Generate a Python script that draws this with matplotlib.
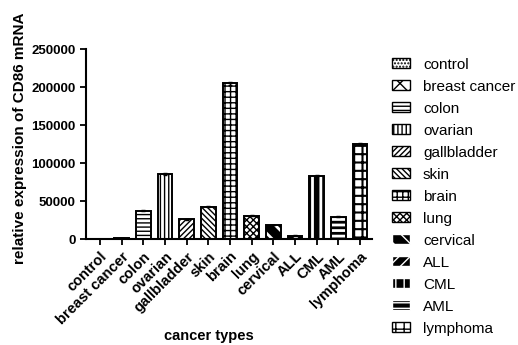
import matplotlib.pyplot as plt
from matplotlib.patches import Patch

plt.rcParams['font.family'] = ['Liberation Sans', 'DejaVu Sans']
plt.rcParams['hatch.linewidth'] = 1.0

# data
cancers = ['control', 'breast cancer', 'colon', 'ovarian', 'gallbladder', 'skin',
           'brain', 'lung', 'cervical', 'ALL', 'CML', 'AML', 'lymphoma']
expression = [300, 1200, 37000, 85500, 26000, 42500, 205000, 30500, 18500,
              4500, 83500, 29500, 125000]
errors = [100, 300, 800, 1000, 600, 1000, 2000, 700, 500, 400, 1200, 800, 1200]

# style per bar: (facecolor, hatch, hatch colour, hatch width)
styles = [
    ('white', '.....', 'black', 1.0),
    ('white', 'xx', 'black', 1.0),
    ('white', '----', 'black', 1.0),
    ('white', '||||', 'black', 1.0),
    ('white', '//////', 'black', 1.0),
    ('white', '\\\\\\\\\\\\', 'black', 1.0),
    ('white', '+++', 'black', 1.0),
    ('white', 'xxxxx', 'black', 1.0),
    ('black', '\\\\', 'white', 2.0),
    ('black', '///', 'white', 2.0),
    ('black', '||', 'white', 2.0),
    ('black', '---', 'white', 2.0),
    ('white', '++', 'black', 1.5),
]

fig = plt.figure(figsize=(5.18, 3.45), dpi=100)
ax = fig.add_axes([86 / 518, 1 - 239 / 345, 286 / 518, 190 / 345])

x = list(range(len(cancers)))
for i, (val, err, (fc, h, hc, hw)) in enumerate(zip(expression, errors, styles)):
    b = ax.bar(i, val, width=0.68, facecolor=fc, edgecolor=hc, hatch=h, linewidth=0)
    for p in b.patches:
        if hasattr(p, 'set_hatch_linewidth'):
            p.set_hatch_linewidth(hw)
    ax.bar(i, val, width=0.68, fill=False, edgecolor='black', linewidth=1.4,
           yerr=err, capsize=1.5, error_kw=dict(elinewidth=1, capthick=1))

ax.set_xlim(-0.645, 12.55)
ax.set_ylim(0, 250000)
ax.set_yticks([0, 50000, 100000, 150000, 200000, 250000])
ax.set_xticks(x)
ax.set_xticklabels(cancers, rotation=45, ha='right', rotation_mode='anchor',
                   fontsize=10.5, fontweight='bold')
for lab in ax.get_yticklabels():
    lab.set_fontweight('bold')
    lab.set_fontsize(9.5)
ax.tick_params(direction='out', width=1.3, length=4)
ax.spines['top'].set_visible(False)
ax.spines['right'].set_visible(False)
ax.spines['left'].set_linewidth(1.5)
ax.spines['bottom'].set_linewidth(1.5)

ax.set_ylabel('relative expression of CD86 mRNA', fontsize=11, fontweight='bold')
ax.set_xlabel('cancer types', fontsize=10.5, fontweight='bold')
ax.yaxis.set_label_coords(-0.205, 0.53)
ax.xaxis.set_label_coords(0.43, -0.474)

handles = []
for (fc, h, hc, hw) in styles:
    handles.append(Patch(facecolor=fc, edgecolor=hc if fc == 'black' else 'black', hatch=h))
fig.legend(handles, cancers, loc='upper left', bbox_to_anchor=(0.745, 0.851),
           frameon=False, fontsize=11, handlelength=1.18, handleheight=0.65,
           labelspacing=0.525, handletextpad=0.85, borderaxespad=0)

fig.savefig('out.png', dpi=100)
